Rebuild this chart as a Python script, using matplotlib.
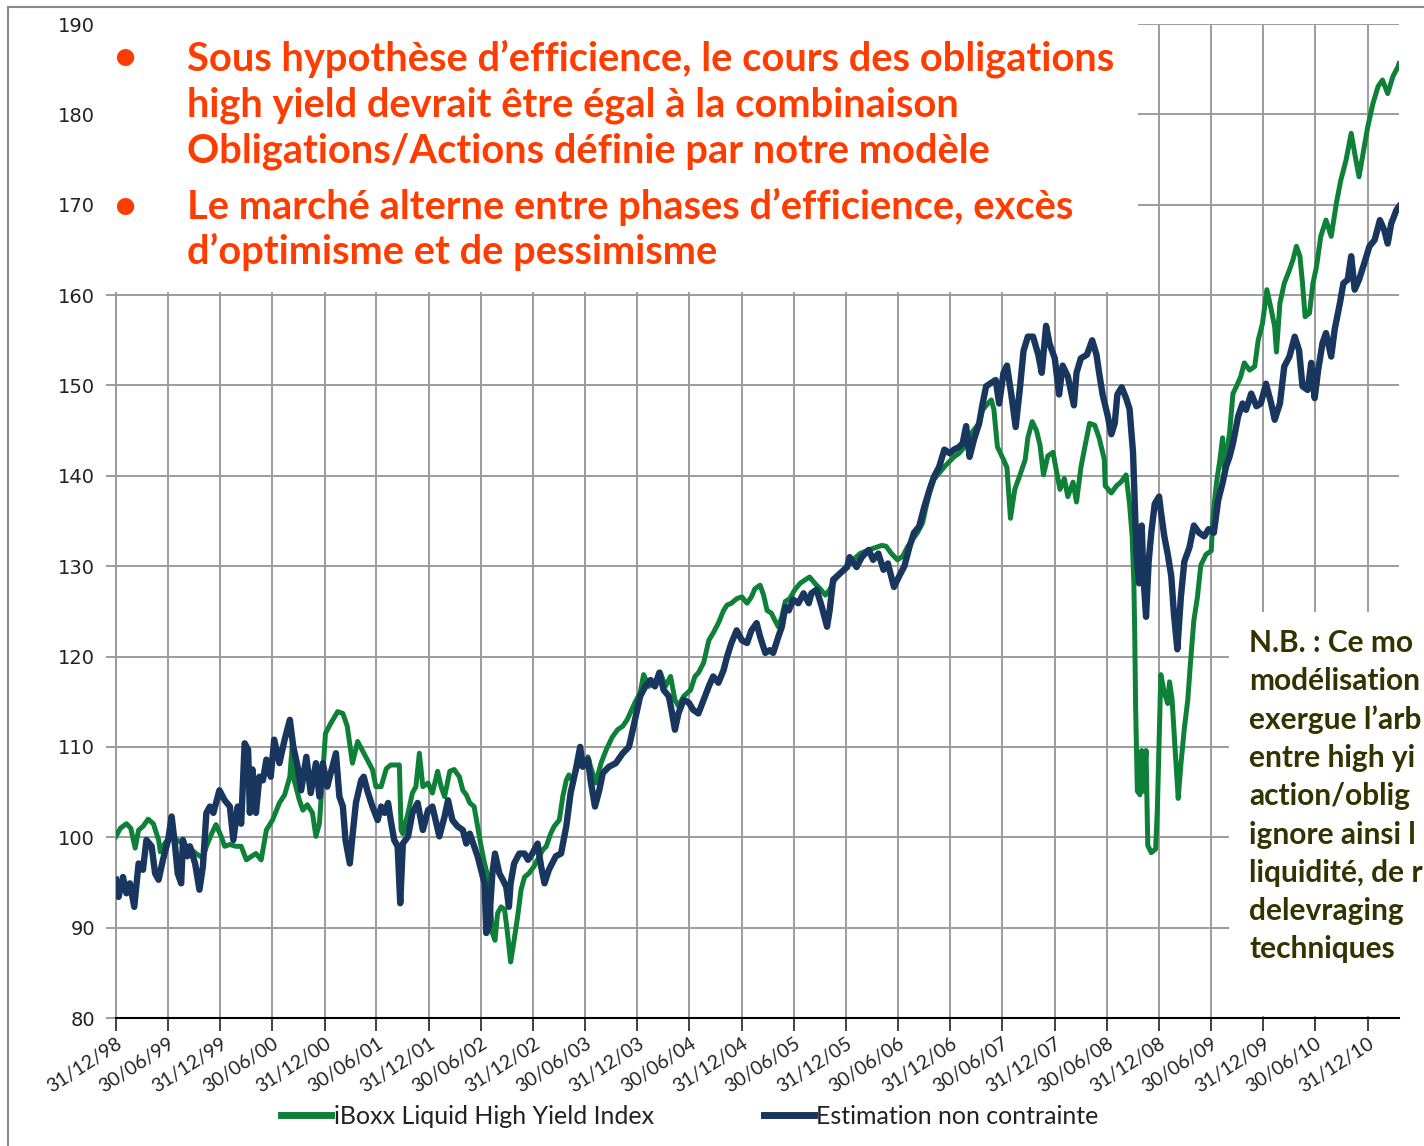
import numpy as np
import pandas as pd
import matplotlib
matplotlib.use("Agg")
import matplotlib.pyplot as plt
from matplotlib.patches import Rectangle

# ---------------- data ----------------
# months elapsed since 31/12/1998
hy_months = [0.0, 0.5, 1.2, 1.7, 2.2, 2.6, 3.1, 3.7, 4.3, 4.9, 5.1, 5.6, 6.2, 7.0, 7.7, 8.5, 9.2, 10.0,
             10.4, 11.0, 11.5, 12.1, 12.5, 13.1, 13.8, 14.4, 15.0, 15.6, 16.1, 16.7, 17.1, 17.3, 18.0,
             18.8, 19.4, 20.0, 20.3, 20.5, 21.1, 21.5, 22.0, 22.6, 23.0, 23.4, 24.1, 24.7, 25.5, 26.1,
             26.6, 27.2, 27.8, 28.4, 28.9, 29.5, 29.9, 30.5, 31.1, 31.6, 32.6, 32.8, 33.0, 33.6, 34.1,
             34.5, 34.9, 35.3, 35.9, 36.4, 37.0, 37.4, 37.8, 38.4, 38.9, 39.5, 39.9, 40.3, 40.7, 41.2,
             41.6, 42.0, 42.4, 42.8, 43.1, 43.3, 43.6, 43.9, 44.3, 44.7, 45.0, 45.4, 45.8, 46.2, 46.6,
             47.0, 47.5, 48.1, 48.7, 49.1, 49.5, 50.0, 50.4, 51.0, 51.4, 51.8, 52.1, 52.5, 53.1, 53.7,
             54.3, 54.6, 55.2, 55.8, 56.4, 57.1, 57.7, 58.3, 58.8, 59.7, 60.3, 60.7, 61.3, 62.0, 62.6,
             63.2, 63.8, 64.3, 64.7, 65.3, 66.1, 66.6, 67.0, 67.6, 68.2, 68.7, 69.3, 69.9, 70.3, 70.8,
             71.4, 72.0, 72.6, 73.1, 73.5, 74.1, 74.5, 74.9, 75.4, 75.8, 76.2, 76.6, 77.0, 77.5, 78.1,
             78.7, 79.3, 79.8, 80.4, 81.0, 81.6, 82.1, 82.7, 83.3, 84.1, 84.8, 85.6, 86.6, 87.5, 88.1,
             88.6, 89.2, 89.9, 90.5, 91.1, 91.6, 92.2, 92.8, 93.2, 93.6, 94.1, 94.7, 95.3, 95.9, 96.4,
             97.0, 97.6, 98.2, 98.7, 99.3, 99.7, 100.3, 100.7, 101.0, 101.4, 102.1, 102.5, 102.9, 103.4,
             104.0, 104.6, 104.9, 105.4, 105.9, 106.3, 106.7, 107.2, 107.8, 108.2, 108.6, 109.1, 109.5,
             110.1, 110.5, 111.0, 111.5, 112.0, 112.6, 113.1, 113.7, 113.8, 114.5, 115.1, 115.6, 116.2,
             116.6, 116.9, 117.1, 117.2, 117.3, 117.5, 117.8, 118.0, 118.2, 118.5, 118.7, 119.1, 119.6,
             119.8, 120.2, 120.6, 121.0, 121.2, 121.5, 121.8, 122.2, 122.5, 122.9, 123.3, 123.6, 124.0,
             124.4, 124.8, 125.4, 126.0, 126.2, 126.6, 127.0, 127.3, 127.5, 128.1, 128.5, 128.9, 129.4,
             129.8, 130.4, 131.0, 131.4, 131.9, 132.4, 132.9, 133.3, 133.5, 133.9, 134.4, 135.0, 135.4,
             135.8, 136.2, 136.5, 136.8, 137.3, 137.7, 138.1, 138.6, 139.2, 139.8, 140.4, 140.9, 141.5,
             142.1, 142.5, 143.0, 143.4, 144.0, 144.6, 145.2, 145.7, 146.3, 146.9, 147.5, 147.6]
hy_values = [100.1, 101.0, 101.5, 101.0, 98.8, 100.8, 101.2, 102.0, 101.5, 99.7, 98.4, 99.3, 100.1, 99.7,
             99.3, 98.8, 98.2, 97.7, 99.0, 100.4, 101.4, 100.1, 99.0, 99.2, 99.0, 99.0, 97.5, 97.9, 98.2,
             97.5, 99.7, 100.8, 101.9, 103.8, 104.7, 106.7, 110.5, 106.3, 104.1, 103.0, 103.6, 102.7,
             100.1, 101.5, 111.5, 112.6, 113.9, 113.7, 112.3, 108.2, 110.6, 109.5, 108.6, 107.5, 105.6,
             105.6, 107.6, 108.0, 108.0, 100.8, 100.4, 102.7, 104.9, 105.6, 109.3, 105.6, 106.0, 104.9,
             107.3, 105.6, 104.5, 107.3, 107.5, 106.7, 105.2, 104.7, 103.8, 103.4, 101.2, 99.0, 97.1,
             95.6, 92.3, 89.4, 88.6, 91.6, 92.3, 92.0, 89.7, 86.2, 88.6, 91.2, 94.2, 95.6, 96.0, 96.8,
             97.9, 98.6, 99.0, 100.4, 101.2, 101.9, 104.5, 106.3, 106.9, 106.3, 107.8, 108.2, 108.9,
             107.8, 106.0, 108.2, 109.7, 111.1, 111.9, 112.3, 113.0, 114.9, 116.0, 118.0, 116.7, 117.1,
             118.3, 116.7, 117.8, 115.2, 114.5, 115.6, 116.3, 117.8, 118.2, 119.3, 121.8, 122.6, 123.7,
             125.1, 125.7, 125.9, 126.4, 126.6, 125.9, 126.6, 127.5, 127.9, 126.8, 125.1, 124.8, 124.0,
             123.3, 124.4, 126.1, 126.4, 127.4, 128.1, 128.5, 128.8, 128.1, 127.5, 126.8, 127.4, 128.5,
             129.2, 129.9, 130.7, 131.4, 131.8, 132.1, 132.3, 132.2, 131.4, 130.7, 131.1, 132.2, 132.9,
             133.7, 134.8, 136.6, 138.1, 139.6, 140.3, 141.0, 141.6, 142.1, 142.5, 143.2, 144.4, 145.1,
             145.8, 147.3, 148.0, 148.4, 147.3, 143.2, 141.8, 140.9, 135.3, 138.5, 140.1, 141.8, 144.2,
             146.0, 145.0, 143.4, 140.1, 142.2, 142.6, 140.5, 138.5, 139.7, 137.7, 139.3, 137.1, 140.9,
             143.4, 145.8, 145.6, 144.2, 141.8, 138.9, 138.1, 138.9, 139.3, 140.1, 136.9, 133.3, 128.1,
             122.4, 114.4, 105.1, 104.7, 109.6, 105.1, 109.6, 99.1, 98.3, 98.7, 103.1, 118.0, 116.0,
             114.8, 117.2, 115.2, 110.4, 104.3, 108.0, 112.0, 115.2, 119.2, 124.0, 126.5, 130.1, 131.3,
             131.7, 135.5, 139.2, 141.8, 144.2, 140.7, 144.7, 149.1, 149.9, 151.0, 152.5, 151.7, 152.1,
             155.0, 156.9, 160.6, 158.4, 156.5, 153.7, 159.1, 161.3, 162.8, 163.9, 165.4, 164.3, 161.3,
             157.6, 158.0, 161.3, 163.1, 166.5, 168.3, 166.5, 170.2, 172.7, 174.9, 177.9, 175.7, 173.1,
             175.3, 178.6, 181.2, 183.1, 183.8, 182.3, 184.2, 185.3, 185.6]

est_months = [0.0, 0.3, 0.8, 1.2, 1.6, 2.1, 2.6, 3.1, 3.5, 4.1, 4.5, 4.9, 5.4, 6.0, 6.4, 6.8, 7.1, 7.5,
              7.7, 8.2, 8.5, 9.1, 9.6, 10.0, 10.4, 10.8, 11.2, 11.9, 12.5, 13.1, 13.5, 14.0, 14.4, 14.8,
              15.2, 15.4, 15.7, 16.1, 16.5, 16.9, 17.3, 17.8, 18.2, 18.8, 19.4, 20.0, 20.4, 20.9, 21.3,
              21.9, 22.4, 23.0, 23.4, 23.8, 24.3, 24.7, 25.3, 25.7, 26.1, 26.4, 26.9, 27.2, 27.6, 28.2,
              28.5, 28.9, 29.5, 30.1, 30.5, 30.9, 31.3, 31.6, 32.0, 32.4, 32.7, 33.0, 33.6, 34.1, 34.7,
              35.3, 35.9, 36.4, 37.2, 37.8, 38.2, 38.7, 39.3, 39.9, 40.3, 40.7, 41.2, 41.6, 42.0, 42.4,
              42.6, 42.9, 43.3, 43.6, 44.1, 44.5, 44.9, 45.2, 45.4, 45.8, 46.4, 47.0, 47.4, 47.9, 48.5,
              48.9, 49.3, 49.8, 50.6, 51.2, 51.8, 52.3, 52.9, 53.4, 53.7, 54.3, 54.6, 55.1, 55.6, 56.0,
              56.7, 57.5, 58.3, 59.0, 59.2, 59.7, 60.3, 60.9, 61.5, 62.0, 62.5, 63.0, 63.6, 63.9, 64.3,
              64.7, 65.3, 65.9, 66.4, 67.0, 67.6, 68.2, 68.7, 69.3, 69.9, 70.3, 70.8, 71.4, 72.0, 72.6,
              73.1, 73.7, 74.1, 74.7, 75.2, 75.6, 76.2, 76.6, 77.0, 77.4, 77.9, 78.5, 79.1, 79.7, 80.0,
              80.6, 81.2, 81.8, 82.1, 82.5, 83.3, 84.1, 84.4, 85.2, 85.8, 86.6, 87.1, 87.7, 88.3, 88.8,
              89.5, 90.1, 90.7, 91.3, 91.8, 92.4, 93.0, 93.6, 94.1, 94.7, 95.3, 95.9, 96.4, 97.0, 97.4,
              97.8, 98.2, 98.7, 99.3, 99.7, 100.1, 100.7, 101.2, 101.6, 102.1, 102.5, 103.0, 103.5,
              104.0, 104.4, 104.9, 105.5, 106.1, 106.5, 107.0, 107.4, 108.0, 108.5, 108.9, 109.5, 110.2,
              110.5, 111.0, 111.7, 112.3, 112.8, 113.1, 113.5, 114.1, 114.5, 114.9, 115.2, 115.7, 116.2,
              116.6, 117.0, 117.2, 117.4, 117.7, 118.0, 118.2, 118.5, 118.8, 119.1, 119.5, 120.0, 120.2,
              120.6, 121.0, 121.4, 121.7, 122.1, 122.5, 122.9, 123.5, 124.0, 124.6, 125.2, 125.7, 126.3,
              126.8, 127.3, 127.7, 128.1, 128.5, 129.1, 129.6, 130.0, 130.6, 131.2, 131.7, 132.3, 132.9,
              133.3, 133.9, 134.4, 135.0, 135.6, 136.1, 136.5, 137.1, 137.5, 137.9, 138.3, 138.8, 139.2,
              139.8, 140.2, 140.8, 141.2, 141.7, 142.1, 142.5, 143.0, 143.6, 144.2, 144.8, 145.4, 145.9,
              146.3, 146.7, 147.3, 147.6]
est_values = [95.3, 93.4, 95.6, 93.8, 94.9, 92.3, 97.1, 96.4, 99.7, 99.0, 96.0, 95.3, 97.5, 99.7, 102.3,
              99.0, 96.0, 94.9, 99.7, 97.9, 99.0, 97.1, 94.2, 96.8, 102.7, 103.4, 102.7, 105.2, 104.1,
              103.4, 99.7, 103.4, 101.5, 110.4, 109.7, 102.7, 107.5, 102.7, 106.7, 106.3, 108.6, 106.7,
              110.8, 108.2, 110.8, 113.0, 110.0, 107.8, 105.2, 108.9, 104.9, 108.2, 104.5, 108.2, 105.6,
              107.1, 109.3, 104.5, 103.4, 99.7, 97.1, 100.1, 103.8, 106.3, 106.7, 105.2, 103.4, 101.9,
              103.4, 102.7, 103.8, 101.9, 99.7, 99.0, 92.7, 99.3, 100.1, 102.7, 103.8, 100.8, 103.0, 103.4,
              100.1, 102.3, 104.1, 101.9, 101.2, 100.8, 99.3, 100.4, 99.0, 97.9, 96.4, 94.9, 89.4, 90.1,
              96.0, 98.2, 96.0, 95.3, 94.5, 92.3, 94.9, 97.1, 98.2, 98.2, 97.5, 98.2, 99.3, 96.8, 94.9,
              96.4, 97.9, 98.2, 101.2, 104.9, 107.5, 110.0, 107.8, 108.6, 106.3, 103.4, 105.2, 107.1,
              107.8, 108.2, 109.3, 110.0, 110.8, 113.0, 115.6, 116.7, 117.4, 116.7, 118.2, 116.3, 115.6,
              114.1, 111.9, 113.7, 115.2, 114.9, 114.1, 113.7, 115.2, 116.7, 117.8, 117.1, 118.5, 120.0,
              121.5, 122.9, 121.8, 121.5, 122.9, 123.7, 122.2, 120.4, 120.7, 120.4, 122.2, 123.3, 125.5,
              125.1, 126.3, 125.9, 127.0, 125.9, 127.0, 127.4, 125.5, 123.3, 125.1, 128.5, 129.2, 129.9,
              131.0, 129.9, 131.0, 131.8, 130.7, 131.4, 129.6, 130.3, 127.7, 128.9, 130.0, 132.2, 133.7,
              134.4, 136.6, 138.5, 139.9, 141.0, 142.9, 142.5, 142.9, 143.2, 143.6, 145.5, 142.1, 144.0,
              145.8, 148.0, 149.9, 150.3, 150.6, 148.0, 151.4, 152.2, 149.0, 145.4, 149.8, 153.8, 155.4,
              155.4, 153.4, 151.4, 156.6, 154.6, 153.0, 149.0, 152.2, 151.0, 147.8, 151.4, 153.0, 153.4,
              155.0, 153.4, 151.4, 149.0, 146.6, 144.6, 145.8, 149.0, 149.8, 148.6, 147.4, 142.6, 136.9,
              131.3, 128.1, 134.5, 128.9, 124.4, 130.5, 133.7, 136.9, 137.7, 136.1, 133.3, 131.3, 128.9,
              124.8, 120.8, 126.5, 130.5, 132.1, 134.5, 133.7, 133.3, 134.1, 133.7, 137.3, 139.2, 141.0,
              142.1, 143.6, 146.6, 148.0, 147.3, 149.1, 147.7, 148.0, 150.2, 148.0, 146.2, 148.0, 152.1,
              153.2, 155.4, 153.9, 149.9, 149.5, 152.5, 148.6, 151.7, 154.7, 155.8, 153.2, 156.2, 159.1,
              161.3, 161.7, 164.3, 160.6, 161.7, 163.5, 165.4, 166.1, 168.3, 167.2, 165.7, 167.9, 169.4,
              169.8]

tick_labels = ["31/12/98", "30/06/99", "31/12/99", "30/06/00", "31/12/00", "30/06/01", "31/12/01",
               "30/06/02", "31/12/02", "30/06/03", "31/12/03", "30/06/04", "31/12/04", "30/06/05",
               "31/12/05", "30/06/06", "31/12/06", "30/06/07", "31/12/07", "30/06/08", "31/12/08",
               "30/06/09", "31/12/09", "30/06/10", "31/12/10"]
y_ticks = [80, 90, 100, 110, 120, 130, 140, 150, 160, 170, 180, 190]

series_names = ["iBoxx Liquid High Yield Index", "Estimation non contrainte"]

headline_lines = ["Sous hypothèse d’efficience, le cours des obligations",
                  "high yield devrait être égal à la combinaison",
                  "Obligations/Actions définie par notre modèle",
                  "Le marché alterne entre phases d’efficience, excès",
                  "d’optimisme et de pessimisme"]
# the note runs off the right edge in the original; only the visible part is kept
note_lines = ["N.B. : Ce mod", "modélisation", "exergue l’arb", "entre high yie",
              "action/obliga", "ignore ainsi le", "liquidité, de r", "delevraging e", "techniques"]

# ---------------- style ----------------
GREEN = "#0f8038"
NAVY = "#18365e"
RED = "#ff3c00"
OLIVE = "#333300"
GRID = "#9c9c9c"
CAL = ["Lato", "DejaVu Sans"]

W, H = 1424, 1146
fig = plt.figure(figsize=(W / 100, H / 100), dpi=100)
fig.patch.set_facecolor("white")


def px(x, y):
    return x / W, 1 - y / H


ax = fig.add_axes([116 / W, 1 - 1018 / H, (1399 - 116) / W, (1018 - 24) / H])

start = pd.Timestamp("1998-12-31")


def to_dates(months):
    return start + pd.to_timedelta(np.asarray(months) * 30.4375, unit="D")


l1, = ax.plot(to_dates(hy_months), hy_values, color=GREEN, lw=3.6, zorder=3,
              solid_joinstyle="round", label=series_names[0])
l2, = ax.plot(to_dates(est_months), est_values, color=NAVY, lw=4.6, zorder=4,
              solid_joinstyle="round", label=series_names[1])

tick_dates = pd.to_datetime(tick_labels, format="%d/%m/%y")
ax.set_xticks(tick_dates)
ax.set_xticklabels(tick_labels, rotation=33, ha="right", va="top", rotation_mode="anchor",
                   fontsize=14, family=CAL, color="#222222")
ax.set_xlim(to_dates([0.0])[0], to_dates([hy_months[-1]])[0])
ax.set_ylim(80, 190)
ax.set_yticks(y_ticks)
ax.set_yticklabels([str(v) for v in y_ticks], fontsize=14, family="DejaVu Sans", color="#222222")

ax.grid(True, color=GRID, lw=1.4, zorder=1)
ax.set_axisbelow(True)
for s in ["top", "right"]:
    ax.spines[s].set_visible(False)
ax.spines["left"].set_color(GRID)
ax.spines["left"].set_linewidth(1.4)
ax.spines["bottom"].set_color("black")
ax.spines["bottom"].set_linewidth(1.5)
ax.spines["bottom"].set_zorder(5)
ax.tick_params(axis="x", direction="out", length=9, width=1.2, color="#222222", pad=3)
ax.tick_params(axis="y", direction="out", length=7, width=1.4, color=GRID, pad=8)

# white boxes covering the grid (text areas)
fig.add_artist(Rectangle(px(100, 292), (1138 - 100) / W, (292 - 9) / H,
                         transform=fig.transFigure, facecolor="white", edgecolor="none", zorder=1))
fig.add_artist(Rectangle(px(1229, 1016), (W - 1229 + 5) / W, (1016 - 612) / H,
                         transform=fig.transFigure, facecolor="white", edgecolor="none", zorder=1))
# outer frame
fig.add_artist(Rectangle(px(8, H + 20), 1.2, (H + 20 - 7) / H, transform=fig.transFigure,
                         fill=False, edgecolor="#8a8a8a", lw=1.5, zorder=2))

renderer = fig.canvas.get_renderer()

# headline text
base = [70, 116, 162, 219, 264]
heads = []
for s, yb in zip(headline_lines, base):
    t = fig.text(*px(187, yb), s, fontsize=26, family=CAL, fontweight="bold", color=RED,
                 ha="left", va="baseline", zorder=5)
    heads.append(t)
w0 = heads[0].get_window_extent(renderer).width
fs = 26 * 928 / w0
for t in heads:
    t.set_fontsize(fs)
for yb in (base[0], base[3]):
    fig.text(*px(125, yb), "•", fontsize=fs, family=CAL, fontweight="bold", color=RED,
             ha="center", va="baseline", zorder=5)

# note text
nb_base = [652, 690, 729, 767, 805, 844, 882, 920, 958]
notes = []
for s, yb in zip(note_lines, nb_base):
    t = fig.text(*px(1249, yb), s, fontsize=22, family=CAL, fontweight="bold", color=OLIVE,
                 ha="left", va="baseline", zorder=5)
    notes.append(t)
wn = notes[-1].get_window_extent(renderer).width
fsn = 22 * 146 / wn
for t in notes:
    t.set_fontsize(fsn)
    s = t.get_text()
    while t.get_window_extent(renderer).x1 > W - 1 and len(s) > 1:
        s = s[:-1]
        t.set_text(s)

# legend
leg = fig.legend(handles=[l1, l2], loc="center", bbox_to_anchor=px(690, 1116), ncol=2,
                 frameon=False, prop={"family": CAL, "size": 18}, handlelength=2.0,
                 handletextpad=0.1, columnspacing=4.4, borderaxespad=0)
for h in leg.legend_handles:
    h.set_linewidth(5)
for t in leg.get_texts():
    t.set_color("#222222")

fig.savefig("out.png", dpi=100, facecolor="white")
